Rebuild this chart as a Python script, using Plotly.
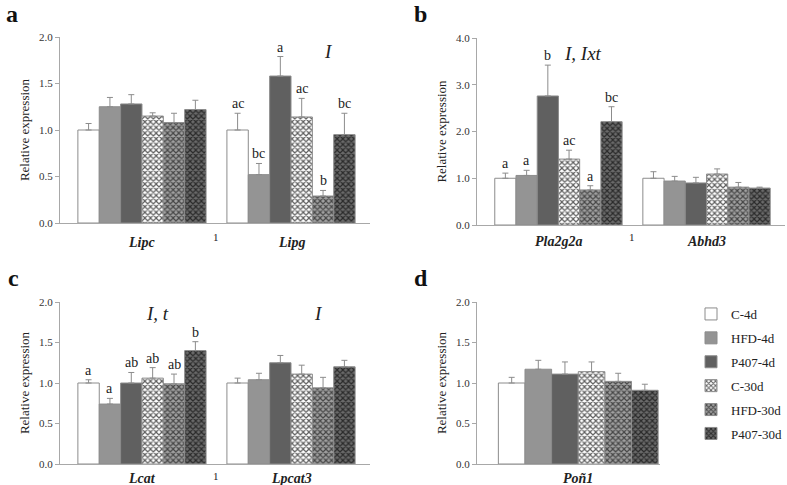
import plotly.graph_objects as go

series = ["C-4d", "HFD-4d", "P407-4d", "C-30d", "HFD-30d", "P407-30d"]

# Panel a
genes_a = ["Lipc", "Lipg"]
lipc_mean = [1.00, 1.25, 1.28, 1.15, 1.08, 1.22]
lipc_err = [0.07, 0.10, 0.10, 0.035, 0.10, 0.10]
lipg_mean = [1.00, 0.52, 1.58, 1.14, 0.29, 0.95]
lipg_err = [0.18, 0.12, 0.21, 0.20, 0.06, 0.23]
lipg_letters = ["ac", "bc", "a", "ac", "b", "bc"]

# Panel b
genes_b = ["Pla2g2a", "Abhd3"]
pla_mean = [1.00, 1.06, 2.76, 1.41, 0.75, 2.21]
pla_err = [0.11, 0.11, 0.66, 0.19, 0.09, 0.32]
pla_letters = ["a", "a", "b", "ac", "a", "bc"]
abhd_mean = [1.00, 0.94, 0.90, 1.09, 0.81, 0.79]
abhd_err = [0.14, 0.10, 0.12, 0.11, 0.10, 0.02]

# Panel c
genes_c = ["Lcat", "Lpcat3"]
lcat_mean = [1.00, 0.74, 1.00, 1.06, 0.99, 1.40]
lcat_err = [0.04, 0.07, 0.13, 0.13, 0.12, 0.11]
lcat_letters = ["a", "a", "ab", "ab", "ab", "b"]
lpcat_mean = [1.00, 1.04, 1.25, 1.11, 0.94, 1.20]
lpcat_err = [0.06, 0.08, 0.09, 0.11, 0.13, 0.08]

# Panel d
genes_d = ["Poñ1"]
pon_mean = [1.00, 1.17, 1.11, 1.14, 1.02, 0.91]
pon_err = [0.07, 0.11, 0.15, 0.12, 0.10, 0.075]

SERIF = "Liberation Serif"
BARGAP = 0.14
LINEC = "#8c8c8c"
AXC = "#a8a8a8"

fills = ["#ffffff", "#949494", "#606060", "#ffffff", "#8e8e8e", "#5a5a5a"]
patterns = [
    None, None, None,
    dict(shape="x", bgcolor="#ffffff", fgcolor="#5e5e5e", size=4, solidity=0.5, fillmode="replace"),
    dict(shape="x", bgcolor="#a0a0a0", fgcolor="#464646", size=4, solidity=0.5, fillmode="replace"),
    dict(shape="x", bgcolor="#6a6a6a", fgcolor="#2a2a2a", size=4, solidity=0.5, fillmode="replace"),
]


def px2x(px):
    return px / 787


def px2y(py):
    return 1 - py / 485


panels = [
    dict(xa="x", ya="y", genes=genes_a, means=[lipc_mean, lipg_mean], errs=[lipc_err, lipg_err],
         letters=[None, lipg_letters], label_y=242, one_y=237),
    dict(xa="x2", ya="y2", genes=genes_b, means=[pla_mean, abhd_mean], errs=[pla_err, abhd_err],
         letters=[pla_letters, None], label_y=241, one_y=237),
    dict(xa="x3", ya="y3", genes=genes_c, means=[lcat_mean, lpcat_mean], errs=[lcat_err, lpcat_err],
         letters=[lcat_letters, None], label_y=478, one_y=476),
    dict(xa="x4", ya="y4", genes=genes_d, means=[pon_mean], errs=[pon_err], letters=[None],
         label_y=478, one_y=None),
]

fig = go.Figure()
annotations = []
gw = 1 - BARGAP
bw = gw / len(series)

for pi, p in enumerate(panels):
    xs = list(range(len(p["genes"])))
    for si, s in enumerate(series):
        ys = [m[si] for m in p["means"]]
        es = [e[si] for e in p["errs"]]
        marker = dict(color=fills[si], line=dict(color=LINEC, width=1))
        if patterns[si]:
            marker["pattern"] = patterns[si]
        fig.add_trace(go.Bar(
            x=xs, y=ys, name=s, marker=marker,
            xaxis=p["xa"], yaxis=p["ya"],
            error_y=dict(type="data", symmetric=False, array=es, arrayminus=[0] * len(es),
                         color=LINEC, thickness=1, width=3),
            legendgroup=s, showlegend=(pi == 3),
        ))
        for gi, letters in enumerate(p["letters"]):
            if letters:
                xc = gi - gw / 2 + (si + 0.5) * bw
                annotations.append(dict(
                    x=xc, y=p["means"][gi][si] + p["errs"][gi][si],
                    xref=p["xa"], yref=p["ya"], text=letters[si], showarrow=False,
                    yanchor="bottom", yshift=0, font=dict(family=SERIF, size=14, color="#222")))
    # gene labels under axis
    for gi, g in enumerate(p["genes"]):
        annotations.append(dict(x=gi, xref=p["xa"], y=px2y(p["label_y"]), yref="paper",
                                text="<b><i>%s</i></b>" % g, showarrow=False, yanchor="middle",
                                font=dict(family=SERIF, size=14, color="#222")))
    if p["one_y"]:
        annotations.append(dict(x=0.5, xref=p["xa"], y=px2y(p["one_y"]), yref="paper", text="1",
                                showarrow=False, yanchor="middle",
                                font=dict(family=SERIF, size=11, color="#222")))

axis_common = dict(showline=True, linecolor=AXC, linewidth=1, showgrid=False, zeroline=False,
                   automargin=False)
yaxis_common = dict(axis_common, ticks="outside", ticklen=4, tickcolor=AXC, tickformat=".1f",
                    tickfont=dict(family=SERIF, size=11, color="#333"),
                    title=dict(text="Relative expression", font=dict(family=SERIF, size=13, color="#222"),
                               standoff=6))


def xaxis_for(rng, dom, anchor):
    return dict(axis_common, domain=dom, range=rng, anchor=anchor, ticks="", showticklabels=False)


fig.update_layout(
    width=787, height=485, margin=dict(l=0, r=0, t=0, b=0, autoexpand=False),
    paper_bgcolor="white", plot_bgcolor="white",
    barmode="group", bargap=BARGAP, bargroupgap=0,
    xaxis=xaxis_for([-0.55, 1.53], [px2x(60), px2x(370)], "y"),
    yaxis=dict(yaxis_common, domain=[px2y(223), px2y(37)], range=[0, 2], dtick=0.5, anchor="x"),
    xaxis2=xaxis_for([-0.55, 1.53], [px2x(477), px2x(785)], "y2"),
    yaxis2=dict(yaxis_common, domain=[px2y(225), px2y(38)], range=[0, 4], dtick=1, anchor="x2"),
    xaxis3=xaxis_for([-0.55, 1.53], [px2x(60), px2x(370)], "y3"),
    yaxis3=dict(yaxis_common, domain=[px2y(464), px2y(302)], range=[0, 2], dtick=0.5, anchor="x3"),
    xaxis4=xaxis_for([-0.545, 0.44], [px2x(477), px2x(660)], "y4"),
    yaxis4=dict(yaxis_common, domain=[px2y(464), px2y(302)], range=[0, 2], dtick=0.5, anchor="x4"),
    legend=dict(x=px2x(691), y=px2y(299), xanchor="left", yanchor="top",
                font=dict(family=SERIF, size=13, color="#222"), tracegroupgap=4,
                itemwidth=30, bgcolor="rgba(0,0,0,0)"),
    showlegend=True,
)

# Effect texts
for txt, xpx, ypx in [("I", 328, 52), ("I, Ixt", 583, 53), ("I, t", 157, 313), ("I", 318, 313)]:
    annotations.append(dict(x=px2x(xpx), y=px2y(ypx), xref="paper", yref="paper", text="<i>%s</i>" % txt,
                            showarrow=False, xanchor="center", yanchor="middle",
                            font=dict(family=SERIF, size=19, color="#222")))

# Panel letters
for txt, xpx, ypx in [("a", 12, 0), ("b", 421, 0), ("c", 13, 264), ("d", 421, 264)]:
    annotations.append(dict(x=px2x(xpx), y=px2y(ypx), xref="paper", yref="paper", text="<b>%s</b>" % txt,
                            showarrow=False, xanchor="center", yanchor="top", borderpad=0,
                            font=dict(family=SERIF, size=24, color="#111")))

fig.update_layout(annotations=annotations)
fig.write_html(
    "out.html",
    config={"displayModeBar": False},
    post_script="document.body.style.margin='0';document.body.style.overflow='hidden';",
)
